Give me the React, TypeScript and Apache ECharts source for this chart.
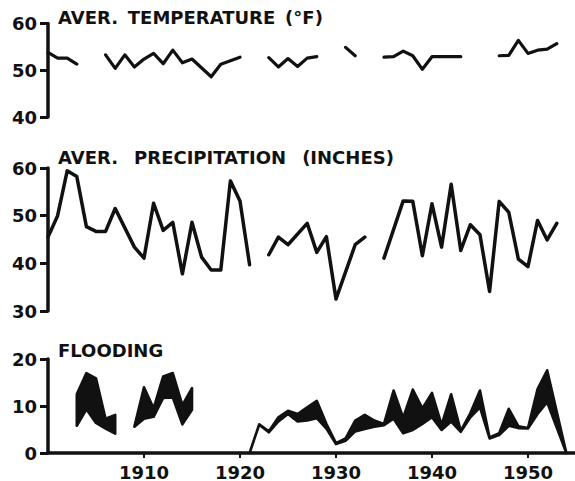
import React, { useEffect, useRef } from 'react';
import * as echarts from 'echarts';

type Pt = [number, number | null];

// Average temperature (°F); null breaks the line
const tempData: Pt[] = [
  [1900, 53.8], [1901, 52.6], [1902, 52.6], [1903, 51.3], [1904, null],
  [1906, 53.3], [1907, 50.4], [1908, 53.3], [1909, 50.7], [1910, 52.4], [1911, 53.6],
  [1912, 51.4], [1913, 54.3], [1914, 51.6], [1915, 52.4], [1917, 48.6], [1918, 51.3],
  [1920, 52.8], [1921, null],
  [1923, 52.7], [1924, 50.7], [1925, 52.5], [1926, 50.8], [1927, 52.6], [1928, 52.9], [1929, null],
  [1931, 54.9], [1932, 53.1], [1933, null],
  [1935, 52.8], [1936, 52.9], [1937, 54.1], [1938, 53.1], [1939, 50.2], [1940, 52.9],
  [1943, 52.9], [1944, null],
  [1947, 53.1], [1948, 53.2], [1949, 56.4], [1950, 53.6], [1951, 54.3], [1952, 54.5], [1953, 55.7],
];

// Average precipitation (inches)
const precipData: Pt[] = [
  [1900, 45.5], [1901, 50], [1902, 59.4], [1903, 58.2], [1904, 47.7], [1905, 46.7], [1906, 46.7],
  [1907, 51.5], [1909, 43.4], [1910, 41.1], [1911, 52.6], [1912, 46.9], [1913, 48.6], [1914, 37.8],
  [1915, 48.6], [1916, 41.3], [1917, 38.6], [1918, 38.6], [1919, 57.3], [1920, 53.1], [1921, 39.7],
  [1922, null],
  [1923, 41.8], [1924, 45.5], [1925, 43.9], [1927, 48.4], [1928, 42.3], [1929, 45.6], [1930, 32.5],
  [1932, 43.9], [1933, 45.5], [1934, null],
  [1935, 41.1], [1937, 53.1], [1938, 53], [1939, 41.6], [1940, 52.5], [1941, 43.4], [1942, 56.6],
  [1943, 42.7], [1944, 48.1], [1945, 46], [1946, 34.1], [1947, 53], [1948, 50.7], [1949, 40.9],
  [1950, 39.3], [1951, 49], [1952, 44.9], [1953, 48.4],
];

// Flooding: upper and lower bounds of the band (same years, same order)
const floodUpper: Pt[] = [
  [1903, 12.5], [1904, 17], [1905, 15.9], [1906, 7.3], [1907, 8.1], [1908, null],
  [1909, 5.6], [1910, 14], [1911, 9.5], [1912, 16.3], [1913, 17], [1914, 10.2], [1915, 13.8], [1916, null],
  [1921, 0], [1922, 6.1], [1923, 4.6], [1924, 7.6], [1925, 9], [1926, 8.3], [1927, 9.7], [1928, 11.1],
  [1929, 6.2], [1930, 2.1], [1931, 3.1], [1932, 6.9], [1933, 8.1], [1934, 6.9], [1935, 6.2],
  [1936, 13.3], [1937, 7.5], [1938, 13.5], [1939, 9.5], [1940, 12.8], [1941, 6], [1942, 12.5],
  [1943, 4.7], [1944, 8.5], [1945, 13.3], [1946, 3.3], [1947, 4.2], [1948, 9.4], [1949, 5.7],
  [1950, 5.3], [1951, 13.6], [1952, 17.6], [1954, 0],
];
const floodLower: Pt[] = [
  [1903, 5.8], [1904, 9.3], [1905, 6.4], [1906, 5.2], [1907, 4.1], [1908, null],
  [1909, 5.6], [1910, 7.3], [1911, 7.7], [1912, 11.7], [1913, 11.8], [1914, 6.1], [1915, 9.2], [1916, null],
  [1921, 0], [1922, 6.0], [1923, 4.4], [1924, 6.7], [1925, 8.3], [1926, 6.7], [1927, 6.9], [1928, 7.4],
  [1929, 5.2], [1930, 1.9], [1931, 2.6], [1932, 4.6], [1933, 5.1], [1934, 5.6], [1935, 5.9],
  [1936, 7.3], [1937, 4.2], [1938, 4.9], [1939, 6.2], [1940, 7.6], [1941, 4.9], [1942, 6.7],
  [1943, 4.5], [1944, 7.6], [1945, 9.7], [1946, 3.1], [1947, 3.8], [1948, 5.8], [1949, 5.3],
  [1950, 5.2], [1951, 8.3], [1952, 10.8], [1954, 0],
];

const yearTicks = [1910, 1920, 1930, 1940, 1950];
const titles = [
  'AVER.\u00a0\u2009TEMPERATURE\u00a0\u2009(°F)',
  'AVER.\u00a0\u00a0\u2009PRECIPITATION\u00a0\u00a0\u2009(INCHES)',
  'FLOODING',
];

// split the band into continuous runs at null entries
type BandPt = [number, number, number];
function bandSegments(): BandPt[][] {
  const segs: BandPt[][] = [];
  let cur: BandPt[] = [];
  floodUpper.forEach((p, i) => {
    const lo = floodLower[i][1];
    if (p[1] == null || lo == null) {
      if (cur.length) segs.push(cur);
      cur = [];
    } else {
      cur.push([p[0], p[1], lo]);
    }
  });
  if (cur.length) segs.push(cur);
  return segs;
}

export default function App() {
  const ref = useRef<HTMLDivElement>(null);
  useEffect(() => {
    if (!ref.current) return;
    const chart = echarts.init(ref.current, null, { renderer: 'svg' });
    const ink = '#111';
    const font = 'DejaVu Sans';
    const textStyle = { color: ink, fontSize: 18, fontWeight: 'bold' as const, fontFamily: font };

    const yAxis = (gridIndex: number, min: number, max: number) => ({
      type: 'value' as const,
      gridIndex, min, max, interval: 10,
      axisLine: { show: true, lineStyle: { color: ink, width: 3.5 } },
      axisTick: { show: true, length: 8, lineStyle: { color: ink, width: 3 } },
      axisLabel: { margin: 11, ...textStyle },
      splitLine: { show: false },
    });
    const hiddenX = (gridIndex: number) => ({
      type: 'value' as const, gridIndex, min: 1900, max: 1954.9, show: false,
    });
    const lineSeries = (idx: number, data: Pt[], width: number) => ({
      type: 'line' as const,
      xAxisIndex: idx, yAxisIndex: idx,
      data, symbol: 'none', connectNulls: false,
      lineStyle: { color: ink, width, cap: 'round', join: 'round' },
      z: 3,
    });

    const segments = bandSegments();

    chart.setOption({
      animation: false,
      backgroundColor: '#fff',
      title: [
        { text: titles[0], left: 58, top: 8, padding: 0, textStyle },
        { text: titles[1], left: 58, top: 148, padding: 0, textStyle },
        { text: titles[2], left: 58, top: 341, padding: 0, textStyle },
      ],
      grid: [
        { left: 48, right: 0, top: 23.5, height: 93.5 },
        { left: 48, right: 0, top: 168, height: 143 },
        { left: 48, right: 0, top: 359, height: 96 },
      ],
      xAxis: [
        hiddenX(0),
        hiddenX(1),
        {
          type: 'value', gridIndex: 2, min: 1900, max: 1954.9, z: 5,
          axisLine: { show: true, lineStyle: { color: ink, width: 3.5 } },
          axisTick: { show: true, length: 5, customValues: yearTicks, lineStyle: { color: ink, width: 2 } },
          axisLabel: {
            margin: 10, customValues: yearTicks, ...textStyle,
            formatter: (v: number) => String(Math.round(v)),
          },
          splitLine: { show: false },
        },
      ],
      yAxis: [yAxis(0, 40, 60), yAxis(1, 30, 60), yAxis(2, 0, 20)],
      series: [
        lineSeries(0, tempData, 3.2),
        lineSeries(1, precipData, 3.5),
        {
          type: 'custom',
          xAxisIndex: 2, yAxisIndex: 2,
          data: segments.map((s) => [s[0][0], s[0][1]]),
          encode: { x: 0, y: 1 },
          renderItem: (params: any, api: any) => {
            const seg = segments[params.dataIndex];
            const top = seg.map((p) => api.coord([p[0], p[1]]));
            const bottom = seg.slice().reverse().map((p) => api.coord([p[0], p[2]]));
            return {
              type: 'polygon',
              shape: { points: top.concat(bottom) },
              style: { fill: ink, stroke: ink, lineWidth: 2.6, lineJoin: 'round' },
            };
          },
          z: 3,
        },
      ],
    });
    return () => chart.dispose();
  }, []);
  return (
    <div
      ref={ref}
      style={{ position: 'fixed', left: 0, top: 0, width: 575, height: 481, background: '#fff' }}
    />
  );
}
